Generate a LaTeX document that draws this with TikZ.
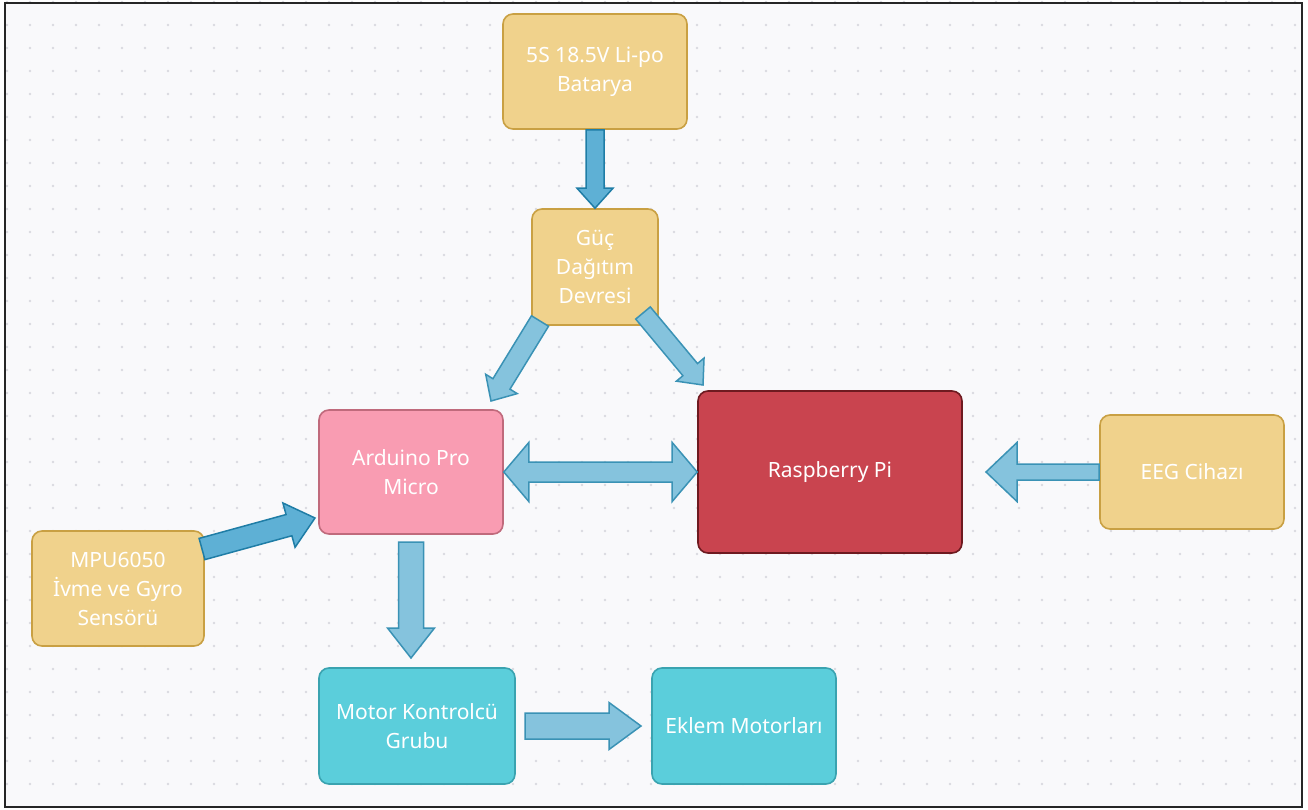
\documentclass[tikz,border=0pt]{standalone}
\usepackage{fontspec}
\setmainfont{Noto Sans}
\usetikzlibrary{calc}
\definecolor{bgc}{HTML}{F9F9FB}
\definecolor{dotc}{HTML}{DADAE0}
\definecolor{yfill}{HTML}{F0D28C}
\definecolor{ydraw}{HTML}{C9A043}
\definecolor{pfill}{HTML}{F99CB2}
\definecolor{pdraw}{HTML}{C06A7C}
\definecolor{rfill}{HTML}{C9444F}
\definecolor{rdraw}{HTML}{6E1A20}
\definecolor{cfill}{HTML}{5BCEDB}
\definecolor{cdraw}{HTML}{3AA3B0}
\definecolor{alfill}{HTML}{85C3DD}
\definecolor{aldraw}{HTML}{3A92B5}
\definecolor{adfill}{HTML}{5EB0D5}
\definecolor{addraw}{HTML}{1F7DA6}
\newcommand\blockarrow[6]{%
  \coordinate (hb) at ($(#3)!#6!(#2)$);
  \draw[#1] ($(#2)!#4!90:(#3)$) -- ($(hb)!#4!90:(#3)$) -- ($(hb)!#5!90:(#3)$) -- (#3)
    -- ($(hb)!#5!-90:(#3)$) -- ($(hb)!#4!-90:(#3)$) -- ($(#2)!#4!-90:(#3)$) -- cycle;}
\newcommand\dblarrow[6]{%
  \coordinate (hba) at ($(#2)!#6!(#3)$);
  \coordinate (hbb) at ($(#3)!#6!(#2)$);
  \draw[#1] (#2) -- ($(hba)!#5!90:(#3)$) -- ($(hba)!#4!90:(#3)$) -- ($(hbb)!#4!90:(#3)$)
    -- ($(hbb)!#5!90:(#3)$) -- (#3) -- ($(hbb)!#5!-90:(#3)$) -- ($(hbb)!#4!-90:(#3)$)
    -- ($(hba)!#4!-90:(#3)$) -- ($(hba)!#5!-90:(#3)$) -- cycle;}
\tikzset{
  box/.style={rounded corners=10pt, line width=1.6pt, inner sep=0pt, text=white,
    align=center, font=\fontsize{21}{29}\selectfont},
  ybox/.style={box, fill=yfill, draw=ydraw},
  pbox/.style={box, fill=pfill, draw=pdraw},
  rbox/.style={box, fill=rfill, draw=rdraw},
  cbox/.style={box, fill=cfill, draw=cdraw},
  larrow/.style={fill=alfill, draw=aldraw, line width=1.5pt, line join=miter},
  darrow/.style={fill=adfill, draw=addraw, line width=1.5pt, line join=miter},
}
\begin{document}
\begin{tikzpicture}[x=1pt,y=-1pt]
\useasboundingbox (0,0) rectangle (1308,810);
\fill[white] (0,0) rectangle (1308,810);
\fill[bgc] (5,3) rectangle (1302,807);
\foreach \i in {0,...,56} {
  \foreach \j in {0,...,34} {
    \fill[dotc] (7+23*\i, 2+23*\j) circle (1.3);
  }
}
\draw[line width=2pt, black!85] (5,3) rectangle (1302,807);

\node[ybox, minimum width=184, minimum height=115] (bat) at (595,71.5) {5S 18.5V Li-po\\Batarya};
\node[ybox, minimum width=126, minimum height=116] (guc) at (595,267) {Güç\\Dağıtım\\Devresi};
\node[pbox, minimum width=184, minimum height=124] (ard) at (411,472) {Arduino Pro\\Micro};
\node[rbox, minimum width=264, minimum height=162] (ras) at (830,472) {Raspberry Pi};
\node[ybox, minimum width=184, minimum height=114] (eeg) at (1192,472) {EEG Cihazı};
\node[ybox, minimum width=172, minimum height=115] (mpu) at (118,588.5) {MPU6050\\İvme ve Gyro\\Sensörü};
\node[cbox, minimum width=196, minimum height=116] (mot) at (417,726) {Motor Kontrolcü\\Grubu};
\node[cbox, minimum width=184, minimum height=116] (ekl) at (744,726) {Eklem Motorları};

\coordinate (g2aS) at (540,321);
\coordinate (g2aE) at (491,401);
\coordinate (g2rS) at (643,313);
\coordinate (g2rE) at (703,385);
\coordinate (m2aS) at (202,549);
\coordinate (m2aE) at (315,518);
\coordinate (a2mS) at (411,542);
\coordinate (a2mE) at (411,658);
\coordinate (m2eS) at (525,726);
\coordinate (m2eE) at (641,726);
\coordinate (e2rE) at (986,472);

\blockarrow{darrow}{bat.south}{guc.north}{9pt}{18pt}{20pt}
\blockarrow{larrow}{g2aS}{g2aE}{10pt}{18.5pt}{20pt}
\blockarrow{larrow}{g2rS}{g2rE}{9.5pt}{18pt}{20pt}
\dblarrow{larrow}{ard.east}{ras.west}{10pt}{29.5pt}{25pt}
\blockarrow{darrow}{m2aS}{m2aE}{11pt}{23pt}{27pt}
\blockarrow{larrow}{a2mS}{a2mE}{12.5pt}{23.5pt}{30pt}
\blockarrow{larrow}{m2eS}{m2eE}{13pt}{23.5pt}{32pt}
\blockarrow{larrow}{eeg.west}{e2rE}{8pt}{29.5pt}{31pt}
\end{tikzpicture}
\end{document}
